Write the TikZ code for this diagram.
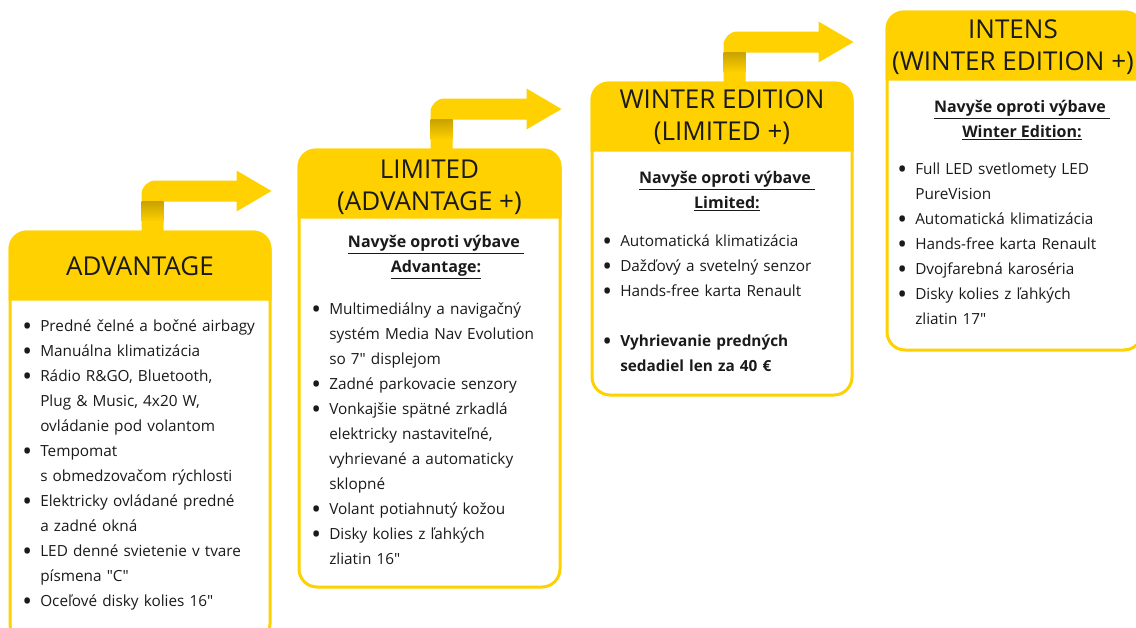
\documentclass[tikz,border=0pt]{standalone}
\usepackage{fontspec}
\setmainfont{Open Sans}
\usetikzlibrary{positioning,calc,fit}
\definecolor{renault}{HTML}{FFD100}
\definecolor{renaultdark}{HTML}{C9A200}
\definecolor{ink}{HTML}{1A1A1A}
\newcommand{\bul}{\par\noindent\llap{\raisebox{-3.3pt}{\scalebox{1.7}{\textbullet}}\hskip6pt}}

\begin{document}
\begin{tikzpicture}[x=0.75pt,y=-0.75pt,
    panel/.style={draw=renault, line width=2.25pt, rounded corners=13.5pt, inner sep=0pt},
    title/.style={align=center, text=ink, inner sep=0pt, font=\fontsize{19.5}{24}\selectfont},
    subhead/.style={align=center, text=ink, inner sep=0pt, font=\fontsize{12}{18.75}\selectfont\bfseries},
    features/.style={anchor=base west, inner sep=0pt, text width=200pt, align=left, text=ink, font=\fontsize{11.5}{18.75}\selectfont}]
  \useasboundingbox (0,0) rectangle (1136,628);
  \clip (0,0) rectangle (1136,628);
  % the four panels
  \node[panel, fit={(10,232) (270,642)}] (adv) {};
  \node[panel, fit={(299,150) (560,587)}] (lim) {};
  \node[panel, fit={(592,83) (852,395)}] (win) {};
  \node[panel, fit={(887,12) (1142,350)}] (int) {};
  % yellow headers
  \foreach \b in {adv,lim,win,int} {
    \fill[renault] ($(\b.north west)+(0,70)$) -- ($(\b.north west)+(0,18)$)
      arc[start angle=180, end angle=270, radius=18] -- ($(\b.north east)+(-18,0)$)
      arc[start angle=270, end angle=360, radius=18] -- ($(\b.north east)+(0,70)$) -- cycle;
  }
  % step arrows
  \foreach \b in {adv,lim,win} {
    \fill[renault] ($(\b.north west)+(133,1)$) -- ($(\b.north west)+(133,-36)$)
      arc[start angle=180, end angle=270, radius=14] -- ($(\b.north east)+(-35,-50)$)
      -- ($(\b.north east)+(-35,-60)$) -- ($(\b.north east)+(0,-39.5)$)
      -- ($(\b.north east)+(-35,-19)$) -- ($(\b.north east)+(-35,-29)$)
      -- ($(\b.north west)+(155,-29)$) -- ($(\b.north west)+(155,1)$) -- cycle;
    \shade[top color=renaultdark, bottom color=renault]
      ($(\b.north west)+(133,-29)$) rectangle ($(\b.north west)+(155,-9)$);
  }
  % titles
  \node[title] (advt) at (140,266) {ADVANTAGE};
  \node[title] (limt) at (429.5,187) {LIMITED\\(ADVANTAGE +)};
  \node[title] (wint) at (722,117) {WINTER EDITION\\(LIMITED +)};
  \node[title] (intt) at (1013,47) {INTENS\\(WINTER EDITION +)};
  % subheadings
  \node[subhead] (limh) at (436,257) {\underline{Navyše oproti výbave\ }\\\underline{Advantage:}};
  \node[subhead] (winh) at (727,191) {\underline{Navyše oproti výbave\ }\\\underline{Limited:}};
  \node[subhead] (inth) at (1022,120) {\underline{Navyše oproti výbave\ }\\\underline{Winter Edition:}};
  % feature lists
  \node[features] (advl) at (40,306) {%
    \bul Predné čelné a bočné airbagy
    \bul Manuálna klimatizácia
    \bul Rádio R\&GO, Bluetooth,\\Plug \& Music, 4x20 W,\\ovládanie pod volantom
    \bul Tempomat\\s obmedzovačom rýchlosti
    \bul Elektricky ovládané predné\\a zadné okná
    \bul LED denné svietenie v tvare\\písmena \textquotedbl C\textquotedbl
    \bul Oceľové disky kolies 16\textquotedbl};
  \node[features] (liml) at (329,289) {%
    \bul Multimediálny a navigačný\\systém Media Nav Evolution\\so 7\textquotedbl\ displejom
    \bul Zadné parkovacie senzory
    \bul Vonkajšie spätné zrkadlá\\elektricky nastaviteľné,\\vyhrievané a automaticky\\sklopné
    \bul Volant potiahnutý kožou
    \bul Disky kolies z ľahkých\\zliatin 16\textquotedbl};
  \node[features] (winl) at (620,221) {%
    \bul Automatická klimatizácia
    \bul Dažďový a svetelný senzor
    \bul Hands-free karta Renault
    \par\vspace{18.75pt}
    \bul \textbf{Vyhrievanie predných}\\\textbf{sedadiel len za 40 €}};
  \node[features] (intl) at (915,149) {%
    \bul Full LED svetlomety LED\\PureVision
    \bul Automatická klimatizácia
    \bul Hands-free karta Renault
    \bul Dvojfarebná karoséria
    \bul Disky kolies z ľahkých\\zliatin 17\textquotedbl};
\end{tikzpicture}
\end{document}
